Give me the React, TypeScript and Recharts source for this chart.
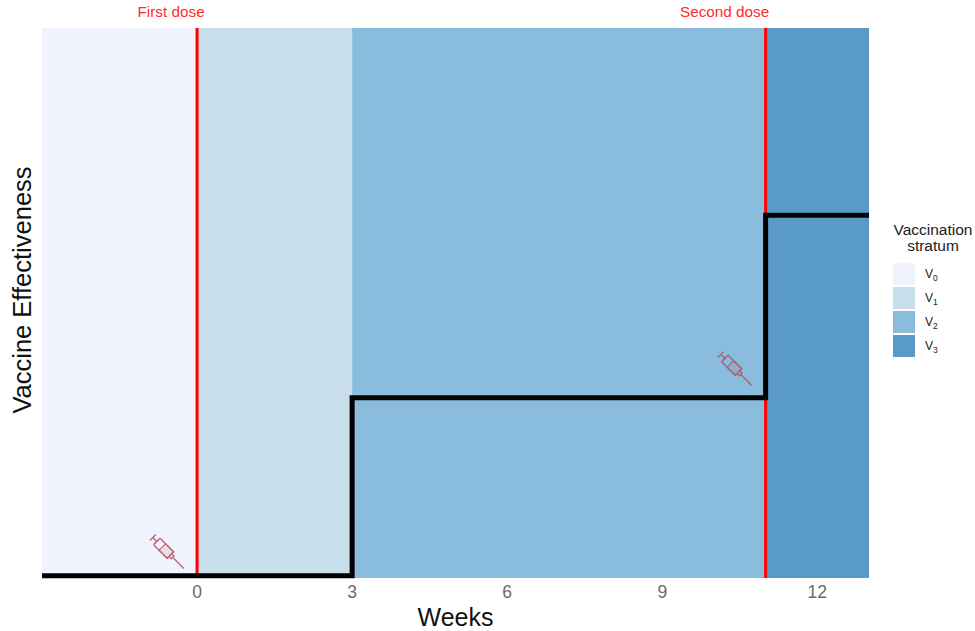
import React from "react";
import { ComposedChart, Line, XAxis, YAxis, ReferenceArea, ReferenceLine, ReferenceDot } from "recharts";

const WEEKS = [-3, 3, 11, 13];
const EFFECTIVENESS = [0, 0.325, 0.658, 0.658];
const TICKS = [0, 3, 6, 9, 12];
const STRATA = ["0", "1", "2", "3"];
const STRATA_START = [-3, 0, 3, 11];
const STRATA_END = [0, 3, 11, 13];
const STRATA_COLORS = ["#F1F3FF", "#C8DEEB", "#89BCDD", "#5A9AC8"];
const DOSE_WEEKS = [0, 11];
const DOSE_LABELS = ["First dose", "Second dose"];
const SYRINGE_X = [-0.56, 10.43];
const SYRINGE_Y = [0.042, 0.376];

const FONT = "'Liberation Sans', Arial, sans-serif";
const data = WEEKS.map((week, i) => ({ week, effect: EFFECTIVENESS[i] }));

function Syringe({ cx, cy }: any) {
  const color = "#B5525F";
  return (
    <g transform={`translate(${cx},${cy}) rotate(45) scale(0.92)`} fill="none" stroke={color} strokeWidth={1.5} opacity={0.85}>
      <path d="M-23.5,-4.5 V4.5 M-23.5,0 H-17.5 M-17.5,-3 V3" />
      <rect x={-17.5} y={-5} width={21} height={10} rx={1} />
      <rect x={-9} y={-5} width={12.5} height={10} fill={color} fillOpacity={0.15} strokeWidth={1.2} />
      <path d="M3.5,-5.5 V5.5 M3.5,-2 L7,-2 V2 L3.5,2 M7,0 H24" />
    </g>
  );
}

function DoseLabel({ viewBox, value, shift }: any) {
  return (
    <text x={viewBox.x + shift} y={viewBox.y - 11} textAnchor="middle" fill="#FF2A2A" fontSize={15.3} fontFamily={FONT}>
      {value}
    </text>
  );
}

function StratumLegend() {
  return (
    <div style={{ position: "absolute", left: 888, top: 222, width: 90, fontFamily: FONT, color: "#222" }}>
      <div style={{ fontSize: 15.5, lineHeight: "16px", textAlign: "center", whiteSpace: "nowrap" }}>
        Vaccination
        <br />
        stratum
      </div>
      <div style={{ marginTop: 8, marginLeft: 5 }}>
        {STRATA.map((s, i) => (
          <div key={s} style={{ display: "flex", alignItems: "center", height: 24 }}>
            <div style={{ width: 22, height: 22, background: STRATA_COLORS[i] }} />
            <div style={{ marginLeft: 10, fontSize: 12, lineHeight: "12px" }}>
              V<sub style={{ fontSize: 8.5, lineHeight: 0 }}>{s}</sub>
            </div>
          </div>
        ))}
      </div>
    </div>
  );
}

export default function App() {
  return (
    <div style={{ position: "absolute", left: 0, top: 0, width: 975, height: 631, background: "#fff" }}>
      <ComposedChart width={975} height={631} data={data} margin={{ left: 42, right: 106, top: 28, bottom: 0 }}>
        <XAxis
          dataKey="week"
          type="number"
          domain={[-3, 13]}
          ticks={TICKS}
          axisLine={false}
          tickLine={false}
          height={53}
          tickMargin={2}
          tick={{ fill: "#6b6b6b", fontSize: 17.5, fontFamily: FONT }}
          label={{ value: "Weeks", position: "insideBottom", offset: 5, fill: "#111", fontSize: 25, fontFamily: FONT }}
        />
        <YAxis type="number" domain={[-0.004, 1]} hide />
        {STRATA.map((s, i) => (
          <ReferenceArea
            key={s}
            x1={STRATA_START[i]}
            x2={STRATA_END[i]}
            y1={-0.004}
            y2={1}
            fill={STRATA_COLORS[i]}
            fillOpacity={1}
            stroke="none"
          />
        ))}
        {DOSE_WEEKS.map((w, i) => (
          <ReferenceLine
            key={w}
            x={w}
            stroke="#FF0000"
            strokeWidth={3}
            label={<DoseLabel value={DOSE_LABELS[i]} shift={i === 0 ? -26 : -41} />}
          />
        ))}
        <Line
          dataKey="effect"
          type="stepAfter"
          stroke="#000"
          strokeWidth={5}
          dot={false}
          activeDot={false}
          isAnimationActive={false}
          strokeLinejoin="miter"
          strokeLinecap="butt"
        />
        {SYRINGE_X.map((x, i) => (
          <ReferenceDot key={x} x={x} y={SYRINGE_Y[i]} shape={<Syringe />} />
        ))}
        <text
          x={22}
          y={290}
          transform="rotate(-90 22 290)"
          textAnchor="middle"
          dominantBaseline="central"
          fill="#111"
          fontSize={25.5}
          fontFamily={FONT}
        >
          Vaccine Effectiveness
        </text>
      </ComposedChart>
      <StratumLegend />
    </div>
  );
}
